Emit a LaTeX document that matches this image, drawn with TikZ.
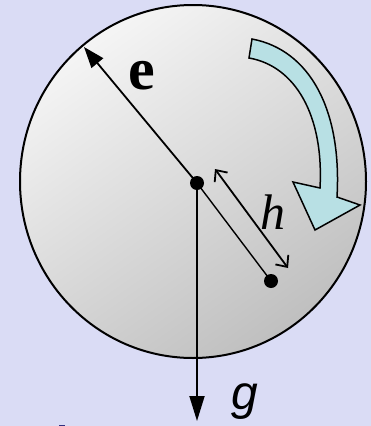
\documentclass[tikz,border=0pt]{standalone}
\usepackage{fontspec}
\setmainfont{Liberation Serif}
\newfontfamily\gfont{Liberation Sans}
\usetikzlibrary{arrows.meta}
\definecolor{bgc}{RGB}{218,220,245}
\definecolor{bandc}{RGB}{184,224,228}
\definecolor{fragc}{RGB}{48,48,128}
\tikzset{
  vec/.style={line width=1.8pt},
  dotc/.style={circle,fill=black,inner sep=0pt,minimum size=14pt},
  lbl/.style={inner sep=0pt}
}
\begin{document}
\begin{tikzpicture}[x=1pt,y=-1pt]
\useasboundingbox (0,0) rectangle (371,426);
\fill[bgc] (0,0) rectangle (371,426);
% disc
\shade[top color=white!96!black,bottom color=black!25,shading angle=35,draw=black,line width=2pt]
  (193,181.5) ellipse [x radius=173,y radius=176.5];
% rotation arrow
\filldraw[fill=bandc,draw=black,line width=1.5pt,line join=miter]
  (252,39) .. controls (310,50) and (342,110) .. (337,197)
  -- (360,205) -- (315,230) -- (293,182) -- (320,188)
  .. controls (324,115) and (295,66) .. (249,58) -- cycle;
% points
\node[dotc] (o) at (197,183) {};
\node[dotc] (p) at (271,281) {};
\coordinate (etip) at (84,47);
\coordinate (gtip) at (197,421);
\coordinate (h1) at (215,169);
\coordinate (h2) at (288,268);
\draw[vec,-{Triangle[length=21pt,width=15pt]}] (o.center) -- (etip);
\draw[line width=1.4pt] (o.center) -- (p.center);
\draw[vec,-{Triangle[length=25pt,width=15pt]}] (o.center) -- (gtip);
\draw[vec,{Straight Barb[length=9pt,width=16pt]}-{Straight Barb[length=9pt,width=16pt]}] (h1) -- (h2);
% labels
\node[lbl] (le) at (142,76) {\fontsize{60}{64}\selectfont\bfseries e};
\node[lbl] (lh) at (273,212) {\fontsize{50}{54}\selectfont\itshape h};
\node[lbl,anchor=base] (lg) at (245,409) {\fontsize{48}{52}\selectfont\gfont\itshape g};
% cut-off fragment at bottom
\fill[fragc] (59,425) rectangle (65,426);
\end{tikzpicture}
\end{document}
